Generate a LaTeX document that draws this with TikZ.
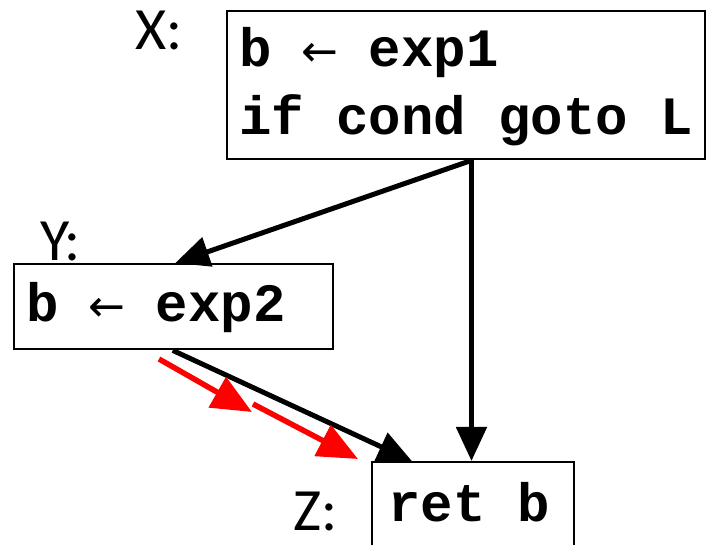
\documentclass[tikz,border=0pt]{standalone}
\usepackage{fontspec}
\setmonofont{Liberation Mono}
\newfontfamily\labelfont{Carlito}
\newfontfamily\arrowfont{DejaVu Sans}
\usetikzlibrary{arrows.meta,calc}
\newcommand{\codearrow}{\makebox[0.6em][c]{\normalfont\arrowfont\fontsize{44}{44}\selectfont ←}}
\tikzset{
  box/.style={draw=black, line width=2.4pt, fill=white, inner sep=0pt},
  code/.style={font=\ttfamily\bfseries\fontsize{54}{60}\selectfont, inner sep=0pt, anchor=base west},
  lbl/.style={font=\labelfont\fontsize{60}{60}\selectfont, inner sep=0pt, anchor=base west},
  flow/.style={line width=5pt, -{Triangle[length=34pt,width=30pt]}},
  hint/.style={draw=red, line width=5.5pt, -{Triangle[length=40pt,width=34pt]}}
}
\begin{document}
\begin{tikzpicture}[x=1pt,y=-1pt]
\useasboundingbox (0,0) rectangle (710,545);
% boxes
\node[box, anchor=north west, minimum width=478pt, minimum height=148pt] (X) at (226,10) {};
\node[box, anchor=north west, minimum width=319pt, minimum height=85pt] (Y) at (13,263) {};
\node[box, anchor=north west, minimum width=202pt, minimum height=84pt] (Z) at (371,461) {};
% code text
\node[code] (x1) at (239,67) {b \codearrow{} exp1};
\node[code] (x2) at (239,135) {if cond goto L};
\node[code] (y1) at (26,322) {b \codearrow{} exp2};
\node[code] (z1) at (388,521) {ret b};
% labels
\node[lbl] (lx) at (135,50) {X:};
\node[lbl] (ly) at (40,261) {Y:};
\node[lbl] (lz) at (293,530) {Z:};
% connector anchors
\coordinate (xs) at ($(X.south west)!0.511!(X.south east)$);
\coordinate (yn) at ($(Y.north west)!0.505!(Y.north east)$);
\coordinate (ys) at ($(Y.south west)!0.497!(Y.south east)$);
\coordinate (zn) at ($(Z.north west)!0.2!(Z.north east)$);
\draw[flow] (xs) -- (yn);
\draw[flow] (xs) -- (xs |- Z.north);
\draw[flow] (ys) -- (zn);
% red hints
\coordinate (r1s) at (159,359);
\coordinate (r1e) at (252,412);
\coordinate (r2s) at (253,404);
\coordinate (r2e) at (358,459);
\draw[hint] (r1s) -- (r1e);
\draw[hint] (r2s) -- (r2e);
\end{tikzpicture}
\end{document}
